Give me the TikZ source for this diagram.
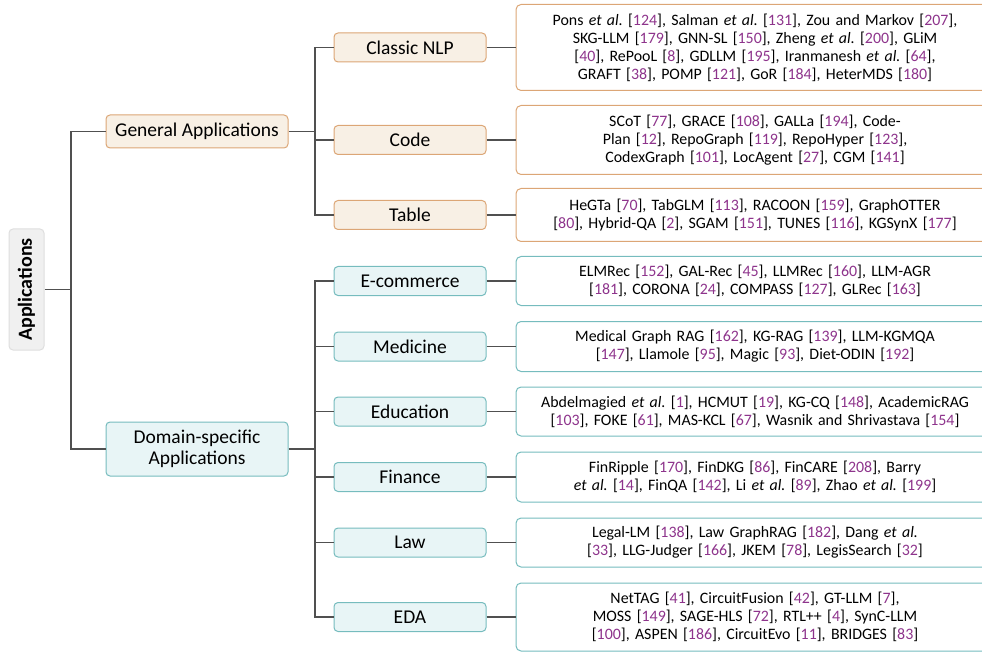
\documentclass[tikz,border=0pt]{standalone}
\usepackage{fontspec}
\setmainfont{Carlito}
\definecolor{citec}{RGB}{142,52,140}
\definecolor{orfill}{RGB}{248,240,229}
\definecolor{ordraw}{RGB}{220,166,118}
\definecolor{tlfill}{RGB}{232,245,246}
\definecolor{tldraw}{RGB}{118,188,190}
\definecolor{rtfill}{RGB}{240,240,240}
\definecolor{rtdraw}{RGB}{222,222,222}
\definecolor{linec}{RGB}{80,80,80}
\newcommand\rf[1]{[\textcolor{citec}{#1}]}
\newcommand\etal{\textit{et al.\@}}
\begin{document}
\begin{tikzpicture}[x=1pt,y=-1pt,
  conn/.style={draw=linec,line width=1.2pt},
  rootbox/.style={draw=rtdraw,fill=rtfill,rounded corners=4pt,line width=1pt,
    rotate=90,minimum width=121pt,minimum height=35pt,inner sep=0pt,
    font=\fontsize{20}{24}\selectfont\bfseries},
  lvone/.style={rounded corners=4pt,line width=1pt,minimum width=182pt,
    inner sep=0pt,align=center,font=\fontsize{19.5}{21}\selectfont},
  lvtwo/.style={rounded corners=4pt,line width=1pt,minimum width=152pt,
    minimum height=29pt,inner sep=0pt,font=\fontsize{19.5}{21}\selectfont},
  leaf/.style={draw,fill=white,rounded corners=5pt,line width=1pt,anchor=west,
    minimum width=478pt,text width=466pt,inner sep=0pt,align=center,
    font=\fontsize{15.9}{18}\selectfont},
  genst/.style={fill=orfill,draw=ordraw},
  domst/.style={fill=tlfill,draw=tldraw}]
\useasboundingbox (0,0) rectangle (982,652);
\clip (0,0) rectangle (982,652);

% root and first level
\node[rootbox] (root) at (26.5,289.5) {Applications};
\node[lvone,genst,minimum height=33pt] (gen) at (197,131.5) {General Applications};
\node[lvone,domst,minimum height=54pt] (dom) at (197,449) {Domain-specific\\Applications};

% second level
\node[lvtwo,genst] (nlp) at (410,47.5) {Classic NLP};
\node[lvtwo,genst] (code) at (410,140) {Code};
\node[lvtwo,genst] (tab) at (410,215) {Table};
\node[lvtwo,domst] (ecom) at (410,281) {E-commerce};
\node[lvtwo,domst] (med) at (410,346.5) {Medicine};
\node[lvtwo,domst] (edu) at (410,411.5) {Education};
\node[lvtwo,domst] (fin) at (410,477) {Finance};
\node[lvtwo,domst] (law) at (410,542.5) {Law};
\node[lvtwo,domst] (eda) at (410,617) {EDA};

% leaves
\node[leaf,draw=ordraw,minimum height=86pt] (nlpL) at (515.5,47.5) {Pons \etal{} \rf{124}, Salman \etal{} \rf{131}, Zou and Markov \rf{207},\\
SKG-LLM \rf{179}, GNN-SL \rf{150}, Zheng \etal{} \rf{200}, GLiM\\
\rf{40}, RePooL \rf{8}, GDLLM \rf{195}, Iranmanesh \etal{} \rf{64},\\
GRAFT \rf{38}, POMP \rf{121}, GoR \rf{184}, HeterMDS \rf{180}};
\node[leaf,draw=ordraw,minimum height=69pt] (codeL) at (515.5,140) {SCoT \rf{77}, GRACE \rf{108}, GALLa \rf{194}, Code-\\
Plan \rf{12}, RepoGraph \rf{119}, RepoHyper \rf{123},\\
CodexGraph \rf{101}, LocAgent \rf{27}, CGM \rf{141}};
\node[leaf,draw=ordraw,minimum height=53pt] (tabL) at (515.5,215) {HeGTa \rf{70}, TabGLM \rf{113}, RACOON \rf{159}, GraphOTTER\\
\rf{80}, Hybrid-QA \rf{2}, SGAM \rf{151}, TUNES \rf{116}, KGSynX \rf{177}};
\node[leaf,draw=tldraw,minimum height=49pt] (ecomL) at (515.5,281) {ELMRec \rf{152}, GAL-Rec \rf{45}, LLMRec \rf{160}, LLM-AGR\\
\rf{181}, CORONA \rf{24}, COMPASS \rf{127}, GLRec \rf{163}};
\node[leaf,draw=tldraw,minimum height=50pt] (medL) at (515.5,346.5) {Medical Graph RAG \rf{162}, KG-RAG \rf{139}, LLM-KGMQA\\
\rf{147}, Llamole \rf{95}, Magic \rf{93}, Diet-ODIN \rf{192}};
\node[leaf,draw=tldraw,minimum height=49pt] (eduL) at (515.5,411.5) {Abdelmagied \etal{} \rf{1}, HCMUT \rf{19}, KG-CQ \rf{148}, AcademicRAG\\
\rf{103}, FOKE \rf{61}, MAS-KCL \rf{67}, Wasnik and Shrivastava \rf{154}};
\node[leaf,draw=tldraw,minimum height=50pt] (finL) at (515.5,477) {FinRipple \rf{170}, FinDKG \rf{86}, FinCARE \rf{208}, Barry\\
\etal{} \rf{14}, FinQA \rf{142}, Li \etal{} \rf{89}, Zhao \etal{} \rf{199}};
\node[leaf,draw=tldraw,minimum height=49pt] (lawL) at (515.5,542.5) {Legal-LM \rf{138}, Law GraphRAG \rf{182}, Dang \etal\\
\rf{33}, LLG-Judger \rf{166}, JKEM \rf{78}, LegisSearch \rf{32}};
\node[leaf,draw=tldraw,minimum height=68pt] (edaL) at (515.5,617) {NetTAG \rf{41}, CircuitFusion \rf{42}, GT-LLM \rf{7},\\
MOSS \rf{149}, SAGE-HLS \rf{72}, RTL++ \rf{4}, SynC-LLM\\
\rf{100}, ASPEN \rf{186}, CircuitEvo \rf{11}, BRIDGES \rf{83}};

% tree connectors
\coordinate (j0) at (71,289.5);
\coordinate (j1) at (315,131.5);
\coordinate (j2) at (315,449);
\draw[conn] (root.south) -- (j0);
\draw[conn] (j0) |- (gen.west);
\draw[conn] (j0) |- (dom.west);
\draw[conn] (gen.east) -- (j1);
\foreach \n in {nlp,code,tab} \draw[conn] (j1) |- (\n.west);
\draw[conn] (dom.east) -- (j2);
\foreach \n in {ecom,med,edu,fin,law,eda} \draw[conn] (j2) |- (\n.west);
\foreach \n in {nlp,code,tab,ecom,med,edu,fin,law,eda} \draw[conn] (\n.east) -- (\n L.west);
\end{tikzpicture}
\end{document}
